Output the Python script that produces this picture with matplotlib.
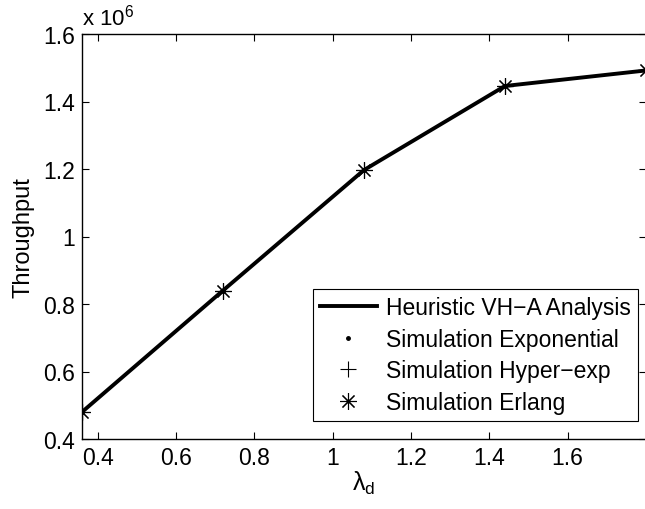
import numpy as np
import matplotlib
matplotlib.use('Agg')
import matplotlib.pyplot as plt
from matplotlib.ticker import FuncFormatter

# data
lambda_d = [0.36, 0.72, 1.08, 1.44, 1.80]
throughput_heuristic = [0.480e6, 0.840e6, 1.197e6, 1.446e6, 1.492e6]
throughput_exp = [0.480e6, 0.840e6, 1.197e6, 1.446e6, 1.492e6]
throughput_hyper = [0.480e6, 0.840e6, 1.197e6, 1.446e6, 1.492e6]
throughput_erlang = [0.480e6, 0.840e6, 1.197e6, 1.446e6, 1.492e6]

xticks = [0.4, 0.6, 0.8, 1.0, 1.2, 1.4, 1.6]
yticks = [0.4e6, 0.6e6, 0.8e6, 1.0e6, 1.2e6, 1.4e6, 1.6e6]

plt.rcParams['font.family'] = ['Liberation Sans', 'DejaVu Sans']
plt.rcParams['mathtext.fontset'] = 'custom'
plt.rcParams['mathtext.rm'] = 'Liberation Sans'
plt.rcParams['mathtext.it'] = 'Liberation Sans'

fig = plt.figure(figsize=(6.45, 5.1), dpi=100)
ax = fig.add_axes([82 / 645, 70 / 510, 564 / 645, 405 / 510])

ax.plot(lambda_d, throughput_heuristic, 'k-', lw=2.8, label='Heuristic VH\u2212A Analysis', zorder=3)
ax.plot(lambda_d, throughput_exp, 'k.', ms=5, label='Simulation Exponential', zorder=4)
ax.plot(lambda_d, throughput_hyper, 'k+', ms=12, mew=0.8, label='Simulation Hyper\u2212exp', zorder=4)
ax.plot(lambda_d, throughput_erlang, 'k', ls='none', marker=(8, 2, 0), ms=12, mew=0.8,
        label='Simulation Erlang', zorder=4)

ax.set_xlim(0.36, 1.8)
ax.set_ylim(0.4e6, 1.6e6)
ax.set_xticks(xticks)
ax.set_yticks(yticks)
ax.xaxis.set_major_formatter(FuncFormatter(lambda v, p: '%g' % v))
ax.yaxis.set_major_formatter(FuncFormatter(lambda v, p: '%g' % (v / 1e6)))
ax.tick_params(direction='in', top=True, right=True, length=5, width=0.8, labelsize=16.5, pad=5)
for s in ax.spines.values():
    s.set_linewidth(1.0)

ax.text(0.0, 1.01, 'x 10$^{6}$', transform=ax.transAxes, fontsize=16, ha='left', va='bottom')
ax.set_xlabel('$\\lambda_d$', fontsize=18, labelpad=0)
ax.set_ylabel('Throughput', fontsize=17, labelpad=6)

leg = ax.legend(loc='lower right', bbox_to_anchor=(556 / 564, 18 / 405), fontsize=16.5,
                frameon=True, fancybox=False, edgecolor='black', framealpha=1,
                borderpad=0.3, labelspacing=0.38, handlelength=2.5, handletextpad=0.4,
                borderaxespad=0)
leg.get_frame().set_linewidth(0.8)

fig.savefig('out.png', dpi=100)
